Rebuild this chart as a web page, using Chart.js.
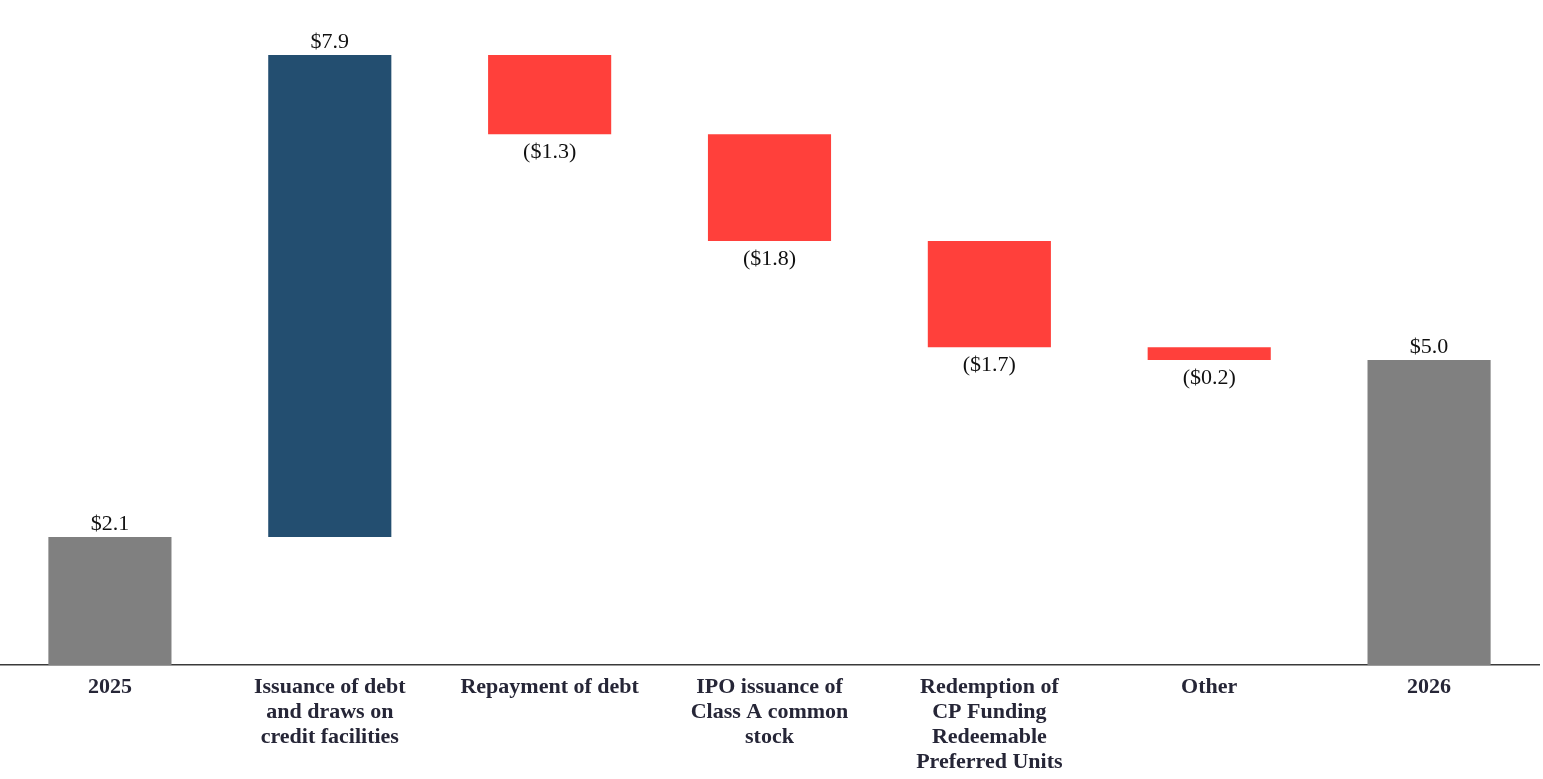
<!DOCTYPE html>
<html lang="en">
<head>
    <meta charset="UTF-8">
    <title>Waterfall</title>
    <script src="https://cdn.jsdelivr.net/npm/chart.js"></script>
    <style>
        html, body { margin: 0; padding: 0; background: #fff; }
        #wrap { width: 1543px; height: 779px; position: relative; }
    </style>
</head>
<body>
    <div id="wrap"><canvas id="waterfall"></canvas></div>

    <script>
        const categories = [
            '2025',
            ['Issuance of debt', 'and draws on', 'credit facilities'],
            'Repayment of debt',
            ['IPO issuance of', 'Class A common', 'stock'],
            ['Redemption of', 'CP Funding', 'Redeemable', 'Preferred Units'],
            'Other',
            '2026'
        ];
        // bar heights (labels are the rounded figures)
        const amounts = [2.1, 7.9, -1.3, -1.75, -1.74, -0.21, 5.0];
        const isTotal = [true, false, false, false, false, false, true];
        const valueLabels = ['$2.1', '$7.9', '($1.3)', '($1.8)', '($1.7)', '($0.2)', '$5.0'];

        // floating bars: each change starts where the previous one ended
        const ranges = [];
        let running = 0;
        amounts.forEach((v, i) => {
            if (isTotal[i]) {
                ranges.push([0, v]);
                running = v;
            } else {
                ranges.push([running, running + v]);
                running += v;
            }
        });
        const colors = amounts.map((v, i) => isTotal[i] ? '#808080' : (v >= 0 ? '#234E70' : '#FF403B'));

        const valueLabelPlugin = {
            id: 'valueLabels',
            afterDatasetsDraw(chart) {
                const c = chart.ctx;
                const meta = chart.getDatasetMeta(0);
                c.save();
                c.font = '22px "Liberation Serif", "Times New Roman", serif';
                c.fillStyle = '#111';
                c.textAlign = 'center';
                meta.data.forEach((bar, i) => {
                    const top = Math.min(bar.y, bar.base);
                    const bottom = Math.max(bar.y, bar.base);
                    if (amounts[i] >= 0) {
                        c.textBaseline = 'bottom';
                        c.fillText(valueLabels[i], bar.x, top - 2);
                    } else {
                        c.textBaseline = 'top';
                        c.fillText(valueLabels[i], bar.x, bottom + 7);
                    }
                });
                c.restore();
            }
        };

        new Chart(document.getElementById('waterfall'), {
            type: 'bar',
            data: {
                labels: categories,
                datasets: [{
                    data: ranges,
                    backgroundColor: colors,
                    borderSkipped: false,
                    barPercentage: 0.56,
                    categoryPercentage: 1.0
                }]
            },
            options: {
                responsive: true,
                maintainAspectRatio: false,
                animation: false,
                layout: { padding: { left: 0, right: 4, top: 0, bottom: 0 } },
                plugins: {
                    legend: { display: false },
                    tooltip: { enabled: false }
                },
                scales: {
                    x: {
                        grid: { display: false, drawTicks: false },
                        border: { display: true, color: '#3a3a3a', width: 1.5 },
                        ticks: {
                            color: '#262637',
                            font: { family: '"Liberation Serif", "Times New Roman", serif', size: 22, weight: 'bold', lineHeight: 1.14 },
                            maxRotation: 0,
                            autoSkip: false,
                            padding: 10
                        },
                        afterFit(scale) { scale.height = 114; }
                    },
                    y: {
                        display: false,
                        min: 0,
                        max: 10.9
                    }
                }
            },
            plugins: [valueLabelPlugin]
        });
    </script>
</body>
</html>
